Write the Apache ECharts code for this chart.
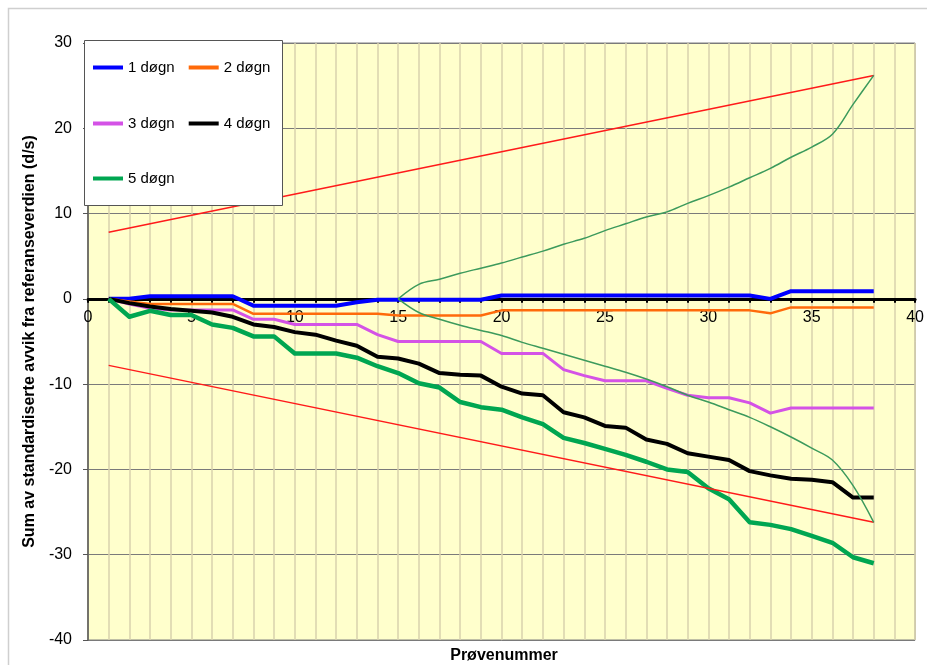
<!DOCTYPE html>
<html>
<head>
<meta charset="utf-8">
<script src="https://cdn.jsdelivr.net/npm/echarts@6/dist/echarts.min.js"></script>
<style>
  html, body { margin: 0; padding: 0; background: #ffffff; }
  #chart { width: 927px; height: 665px; }
</style>
</head>
<body>
<div id="chart"></div>
<script>
// Prøvenummer (sample numbers) on the x axis
const proveNr = [1,2,3,4,5,6,7,8,9,10,11,12,13,14,15,16,17,18,19,20,21,22,23,24,25,26,27,28,29,30,31,32,33,34,35,36,37,38];

// Cumulative sum of standardised deviations per storage time
const dogn1 = [0,0,0.3,0.3,0.3,0.3,0.3,-0.8,-0.8,-0.8,-0.8,-0.8,-0.4,-0.1,-0.1,-0.1,-0.1,-0.1,-0.1,0.4,0.4,0.4,0.4,0.4,0.4,0.4,0.4,0.4,0.4,0.4,0.4,0.4,0,0.9,0.9,0.9,0.9,0.9];
const dogn2 = [0,-0.3,-0.6,-0.6,-0.6,-0.6,-0.6,-1.75,-1.75,-1.75,-1.75,-1.75,-1.75,-1.75,-1.95,-1.95,-1.95,-1.95,-1.95,-1.35,-1.35,-1.35,-1.35,-1.35,-1.35,-1.35,-1.35,-1.35,-1.35,-1.35,-1.35,-1.35,-1.7,-1.0,-1.0,-1.0,-1.0,-1.0];
const dogn3 = [0,-0.6,-1.1,-1.3,-1.3,-1.3,-1.3,-2.4,-2.4,-3.0,-3.0,-3.0,-3.0,-4.2,-5.0,-5.0,-5.0,-5.0,-5.0,-6.4,-6.4,-6.4,-8.3,-9.0,-9.6,-9.6,-9.6,-10.5,-11.3,-11.6,-11.6,-12.2,-13.4,-12.8,-12.8,-12.8,-12.8,-12.8];
const dogn4 = [0,-0.5,-0.9,-1.2,-1.4,-1.6,-2.1,-3.0,-3.3,-3.9,-4.2,-4.9,-5.5,-6.8,-7.0,-7.6,-8.7,-8.9,-9.0,-10.3,-11.1,-11.3,-13.3,-13.9,-14.9,-15.1,-16.5,-17.0,-18.1,-18.5,-18.9,-20.2,-20.7,-21.1,-21.2,-21.5,-23.3,-23.3];
const dogn5 = [0,-2.1,-1.4,-1.9,-1.9,-3.0,-3.4,-4.4,-4.4,-6.4,-6.4,-6.4,-6.9,-7.9,-8.7,-9.9,-10.4,-12.1,-12.7,-13.0,-13.9,-14.7,-16.3,-16.9,-17.6,-18.3,-19.1,-20.0,-20.3,-22.2,-23.5,-26.2,-26.5,-27.0,-27.8,-28.6,-30.3,-31.0];

// Straight control limits
const grenseX = [1, 38];
const grenseOvre = [7.8, 26.2];
const grenseNedre = [-7.8, -26.2];

// Curved limits starting at sample 15
const kurveX = [15,16,17,18,19,20,21,22,23,24,25,26,27,28,29,30,31,32,33,34,35,36,37,38];
const kurveOvre = [0,1.7,2.3,3.0,3.6,4.2,4.9,5.6,6.4,7.1,8.0,8.8,9.6,10.2,11.2,12.1,13.1,14.2,15.3,16.6,17.8,19.3,22.8,26.2];
const kurveNedre = [0,-1.6,-2.4,-3.1,-3.7,-4.3,-5.1,-5.8,-6.5,-7.2,-7.9,-8.6,-9.4,-10.3,-11.3,-12.1,-13.0,-13.9,-15.0,-16.2,-17.5,-18.9,-21.9,-26.2];

// Axis ticks
const xMin = 0, xMax = 40, xStep = 1, xLabelStep = 5;
const yMin = -40, yMax = 30, yStep = 10;

const pairs = (xs, ys) => xs.map((x, i) => [x, ys[i]]);

const FONT = '"Liberation Sans", Arial, sans-serif';

// Plot area layout
const GRID = { left: 88, right: 7, top: 43, bottom: 25 };
const CHART_H = 665;
const plotH = CHART_H - GRID.top - GRID.bottom;
// pixel distance from the bottom edge of the plot up to the value 0
const zeroLift = plotH * (0 - yMin) / (yMax - yMin);

function lineSeries(name, ys, color, width) {
  return {
    name: name,
    type: 'line',
    data: pairs(proveNr, ys),
    symbol: 'none',
    lineStyle: { color: color, width: width, join: 'round' },
    itemStyle: { color: color },
    z: 3,
    animation: false
  };
}

function helperSeries(name, xs, ys, color, width, smooth) {
  return {
    name: name,
    type: 'line',
    data: pairs(xs, ys),
    symbol: 'none',
    smooth: smooth,
    lineStyle: { color: color, width: width },
    itemStyle: { color: color },
    z: 4,
    silent: true,
    animation: false
  };
}

const chart = echarts.init(document.getElementById('chart'), null, { renderer: 'canvas' });

const legendBase = {
  orient: 'horizontal',
  icon: 'rect',
  itemWidth: 30,
  itemHeight: 4,
  itemGap: 14,
  padding: 0,
  z: 200,
  textStyle: { fontFamily: FONT, fontSize: 15, color: '#000' },
  selectedMode: false
};

chart.setOption({
  backgroundColor: '#ffffff',
  animation: false,
  grid: Object.assign({}, GRID, {
    show: true,
    backgroundColor: '#ffffcc',
    borderColor: '#808080',
    borderWidth: 1
  }),
  legend: [
    Object.assign({}, legendBase, { left: 93, top: 60, data: ['1 døgn', '2 døgn'] }),
    Object.assign({}, legendBase, { left: 93, top: 116, data: ['3 døgn', '4 døgn'] }),
    Object.assign({}, legendBase, { left: 93, top: 171, data: ['5 døgn'] })
  ],
  xAxis: {
    type: 'value',
    min: xMin, max: xMax, interval: xStep,
    position: 'bottom',
    offset: -zeroLift,
    axisLine: { show: true, onZero: false, lineStyle: { color: '#000', width: 3 } },
    axisTick: { show: true, length: 4, lineStyle: { color: '#000', width: 2 } },
    axisLabel: {
      fontFamily: FONT, fontSize: 16, color: '#000', margin: 11,
      formatter: v => (v % xLabelStep === 0 ? String(v) : '')
    },
    splitLine: { show: true, lineStyle: { color: '#d8d2ae', width: 1.5 } }
  },
  yAxis: {
    type: 'value',
    min: yMin, max: yMax, interval: yStep,
    name: 'Sum av standardiserte avvik fra referanseverdien (d/s)',
    nameLocation: 'middle',
    nameRotate: 90,
    nameGap: 48,
    nameTextStyle: { fontFamily: FONT, fontSize: 16, fontWeight: 'bold', color: '#000' },
    axisLine: { show: true, onZero: false, lineStyle: { color: '#555', width: 1.5 } },
    axisTick: { show: true, length: 5, lineStyle: { color: '#555' } },
    axisLabel: { fontFamily: FONT, fontSize: 16, color: '#000', margin: 16 },
    splitLine: { show: true, lineStyle: { color: '#7a7a7a', width: 1 } }
  },
  graphic: [
    {
      type: 'rect',
      shape: { x: 8.5, y: 8.5, width: 940, height: 700 },
      style: { fill: null, stroke: '#cfcfcf', lineWidth: 1.5 },
      z: 1
    },
    {
      type: 'rect',
      shape: { x: 84.5, y: 40.5, width: 198, height: 165 },
      style: { fill: '#ffffff', stroke: '#555555', lineWidth: 1 },
      z: 100
    },
    {
      type: 'text',
      x: 504, y: 656,
      style: {
        text: 'Prøvenummer',
        font: 'bold 16px "Liberation Sans", Arial, sans-serif',
        fill: '#000',
        textAlign: 'center',
        textVerticalAlign: 'middle'
      },
      z: 100
    }
  ],
  series: [
    lineSeries('1 døgn', dogn1, '#0000ff', 4),
    lineSeries('2 døgn', dogn2, '#ff6a0a', 2.5),
    lineSeries('3 døgn', dogn3, '#d452e6', 3),
    lineSeries('4 døgn', dogn4, '#000000', 4),
    lineSeries('5 døgn', dogn5, '#00a651', 4.5),
    helperSeries('Øvre grense', grenseX, grenseOvre, '#ff1a1a', 1.5, false),
    helperSeries('Nedre grense', grenseX, grenseNedre, '#ff1a1a', 1.5, false),
    helperSeries('Øvre kurve', kurveX, kurveOvre, '#3c9a5c', 1.5, 0.35),
    helperSeries('Nedre kurve', kurveX, kurveNedre, '#3c9a5c', 1.5, 0.35)
  ]
});
</script>
</body>
</html>
